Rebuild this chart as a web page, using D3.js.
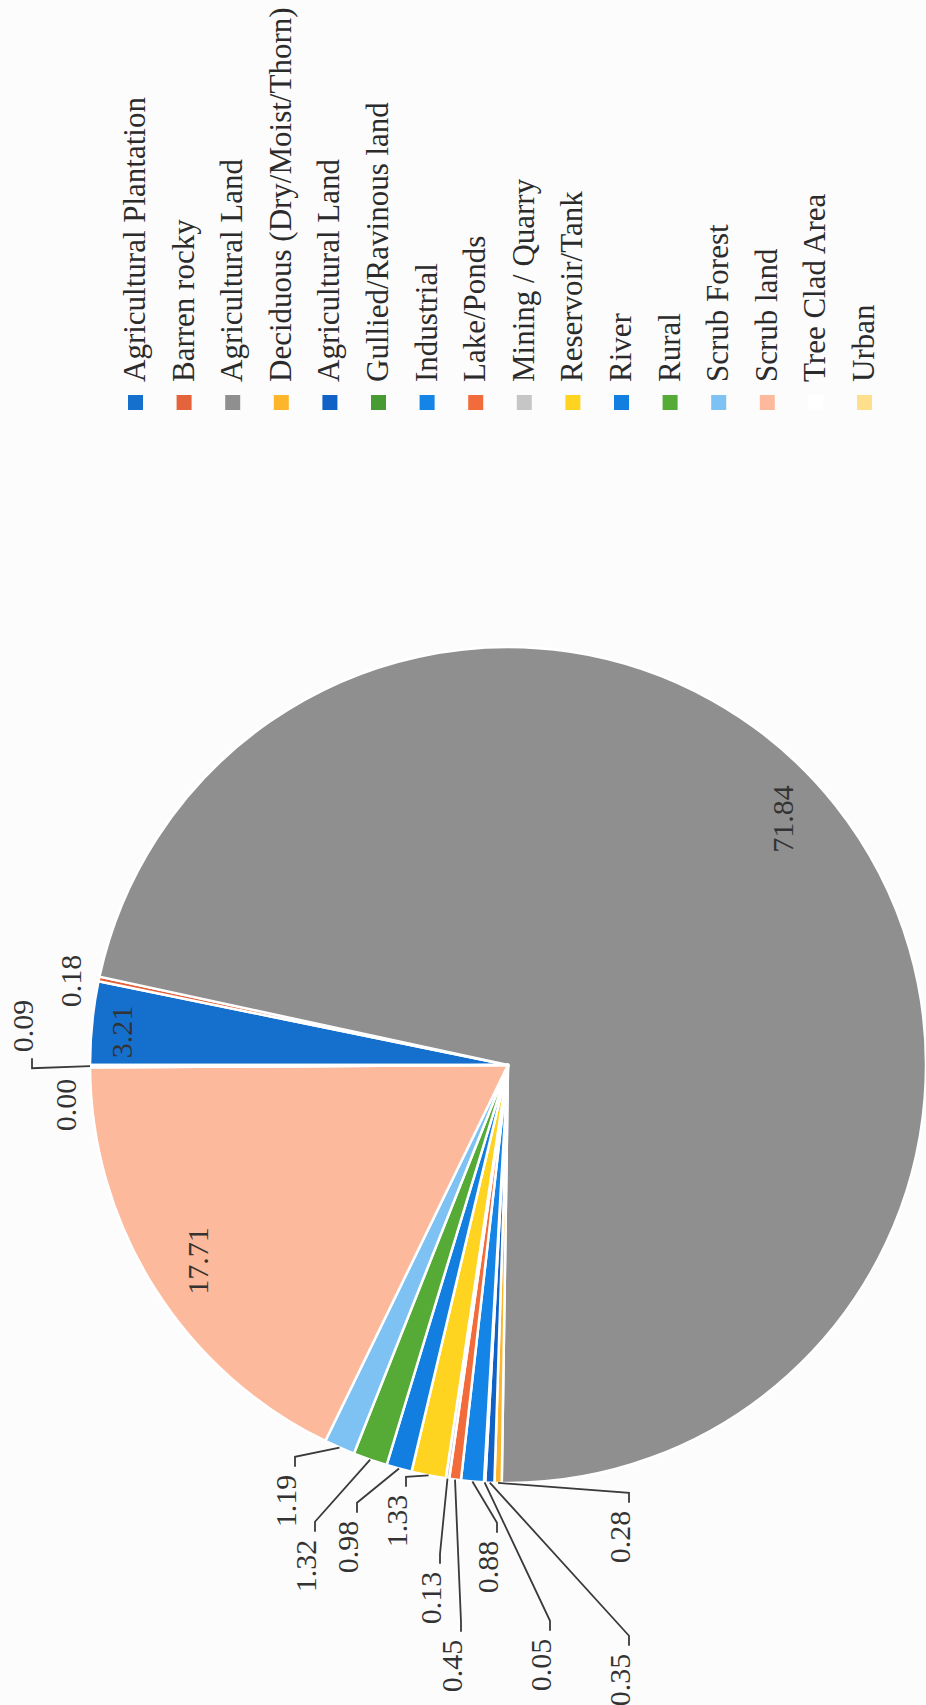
<!DOCTYPE html>
<html>
<head>
<meta charset="utf-8">
<script src="https://cdn.jsdelivr.net/npm/d3@7"></script>
<style>
  html, body { margin: 0; padding: 0; background: #fcfcfc; }
  svg { display: block; }
</style>
</head>
<body>
<div id="chart"></div>
<script>
// Land use / land cover shares (%)
const categories = [
  "Agricultural Plantation", "Barren rocky", "Agricultural Land",
  "Deciduous (Dry/Moist/Thorn)", "Agricultural Land", "Gullied/Ravinous land",
  "Industrial", "Lake/Ponds", "Mining / Quarry", "Reservoir/Tank", "River",
  "Rural", "Scrub Forest", "Scrub land", "Tree Clad Area", "Urban"
];
const values = [3.21, 0.18, 71.84, 0.28, 0.35, 0.05, 0.88, 0.45, 0.13, 1.33, 0.98, 1.32, 1.19, 17.71, 0.00, 0.09];

const sliceColors = [
  "#1570CD", "#E4633A", "#8F8F8F", "#FDB52B", "#1062C6", "#469C32",
  "#1485E6", "#F26C3B", "#C6C6C6", "#FFD420", "#127FE0", "#55AB36",
  "#7EC2F4", "#FDB99B", "#FFFFFF", "#FFDF8C"
];

// Label centres relative to the pie centre (chart frame before rotation) and leader flag
const labelOffsets = [
  [33, -387, false], [84, -438, false], [246, 274, false], [-472, 111, true],
  [-615, 111, true], [-600, 32, true], [-502, -21, true], [-601, -57, true],
  [-533, -78, true], [-456, -112, true], [-482, -161, true], [-501, -203, true],
  [-436, -223, true], [-196, -311, false], [-40, -443, false], [39, -486, true]
];

// The chart is laid out in a 1705 x 926 frame and turned a quarter turn counter-clockwise
const pageW = 926, pageH = 1705;
const frameW = 1705, frameH = 926;
const cx = 640, cy = 508, R = 418;

const svg = d3.select("#chart").append("svg")
  .attr("width", pageW).attr("height", pageH)
  .style("background", "#fcfcfc");

const frame = svg.append("g")
  .attr("transform", `translate(0,${pageH}) rotate(-90)`);

const pie = d3.pie().sort(null).value(d => d)(values);
const arc = d3.arc().innerRadius(0).outerRadius(R);

const pieG = frame.append("g").attr("transform", `translate(${cx},${cy})`);

pieG.selectAll("path.slice")
  .data(pie)
  .join("path")
  .attr("class", "slice")
  .attr("d", arc)
  .attr("fill", (d, i) => sliceColors[i])
  .attr("stroke", "#ffffff")
  .attr("stroke-width", 2.5)
  .attr("stroke-linejoin", "round");

const fmt = d3.format(".2f");
const labelFont = "'Liberation Serif', 'Times New Roman', serif";

const labels = pieG.selectAll("text.value")
  .data(pie)
  .join("text")
  .attr("class", "value")
  .attr("x", (d, i) => labelOffsets[i][0])
  .attr("y", (d, i) => labelOffsets[i][1])
  .attr("text-anchor", "middle")
  .attr("dominant-baseline", "central")
  .attr("font-family", labelFont)
  .attr("font-size", 30)
  .attr("fill", "#333333")
  .text(d => fmt(d.value));

// Leader lines from the rim to the outside labels
const line = d3.line();
labels.each(function (d, i) {
  const [lx, ly, lead] = labelOffsets[i];
  if (!lead) return;
  const mid = (d.startAngle + d.endAngle) / 2;
  const ax = R * Math.sin(mid), ay = -R * Math.cos(mid);
  const w = this.getComputedTextLength();
  const yb = ly + 10;
  let pts;
  if (lx < ax) {
    const edge = lx + w / 2;
    pts = [[ax, ay], [edge + 18, yb], [edge + 8, yb]];
  } else {
    const edge = lx - w / 2;
    pts = [[ax, ay], [edge - 16, yb], [edge - 6, yb]];
  }
  pieG.append("path")
    .attr("d", line(pts))
    .attr("fill", "none")
    .attr("stroke", "#3a3a3a")
    .attr("stroke-width", 1.8);
});

// Legend on the right of the frame
const legendY = d3.scalePoint()
  .domain(d3.range(categories.length))
  .range([135.5, 864.5]);

const legend = frame.append("g").attr("class", "legend");
const sw = 15;
const items = legend.selectAll("g.item")
  .data(categories)
  .join("g")
  .attr("class", "item")
  .attr("transform", (d, i) => `translate(1295,${legendY(i)})`);

items.append("rect")
  .attr("x", 0).attr("y", -sw / 2)
  .attr("width", sw).attr("height", sw)
  .attr("fill", (d, i) => sliceColors[i]);

items.append("text")
  .attr("x", 28).attr("y", 9.5)
  .attr("font-family", labelFont)
  .attr("font-size", 31)
  .attr("fill", "#2b2b2b")
  .text(d => d);
</script>
</body>
</html>
